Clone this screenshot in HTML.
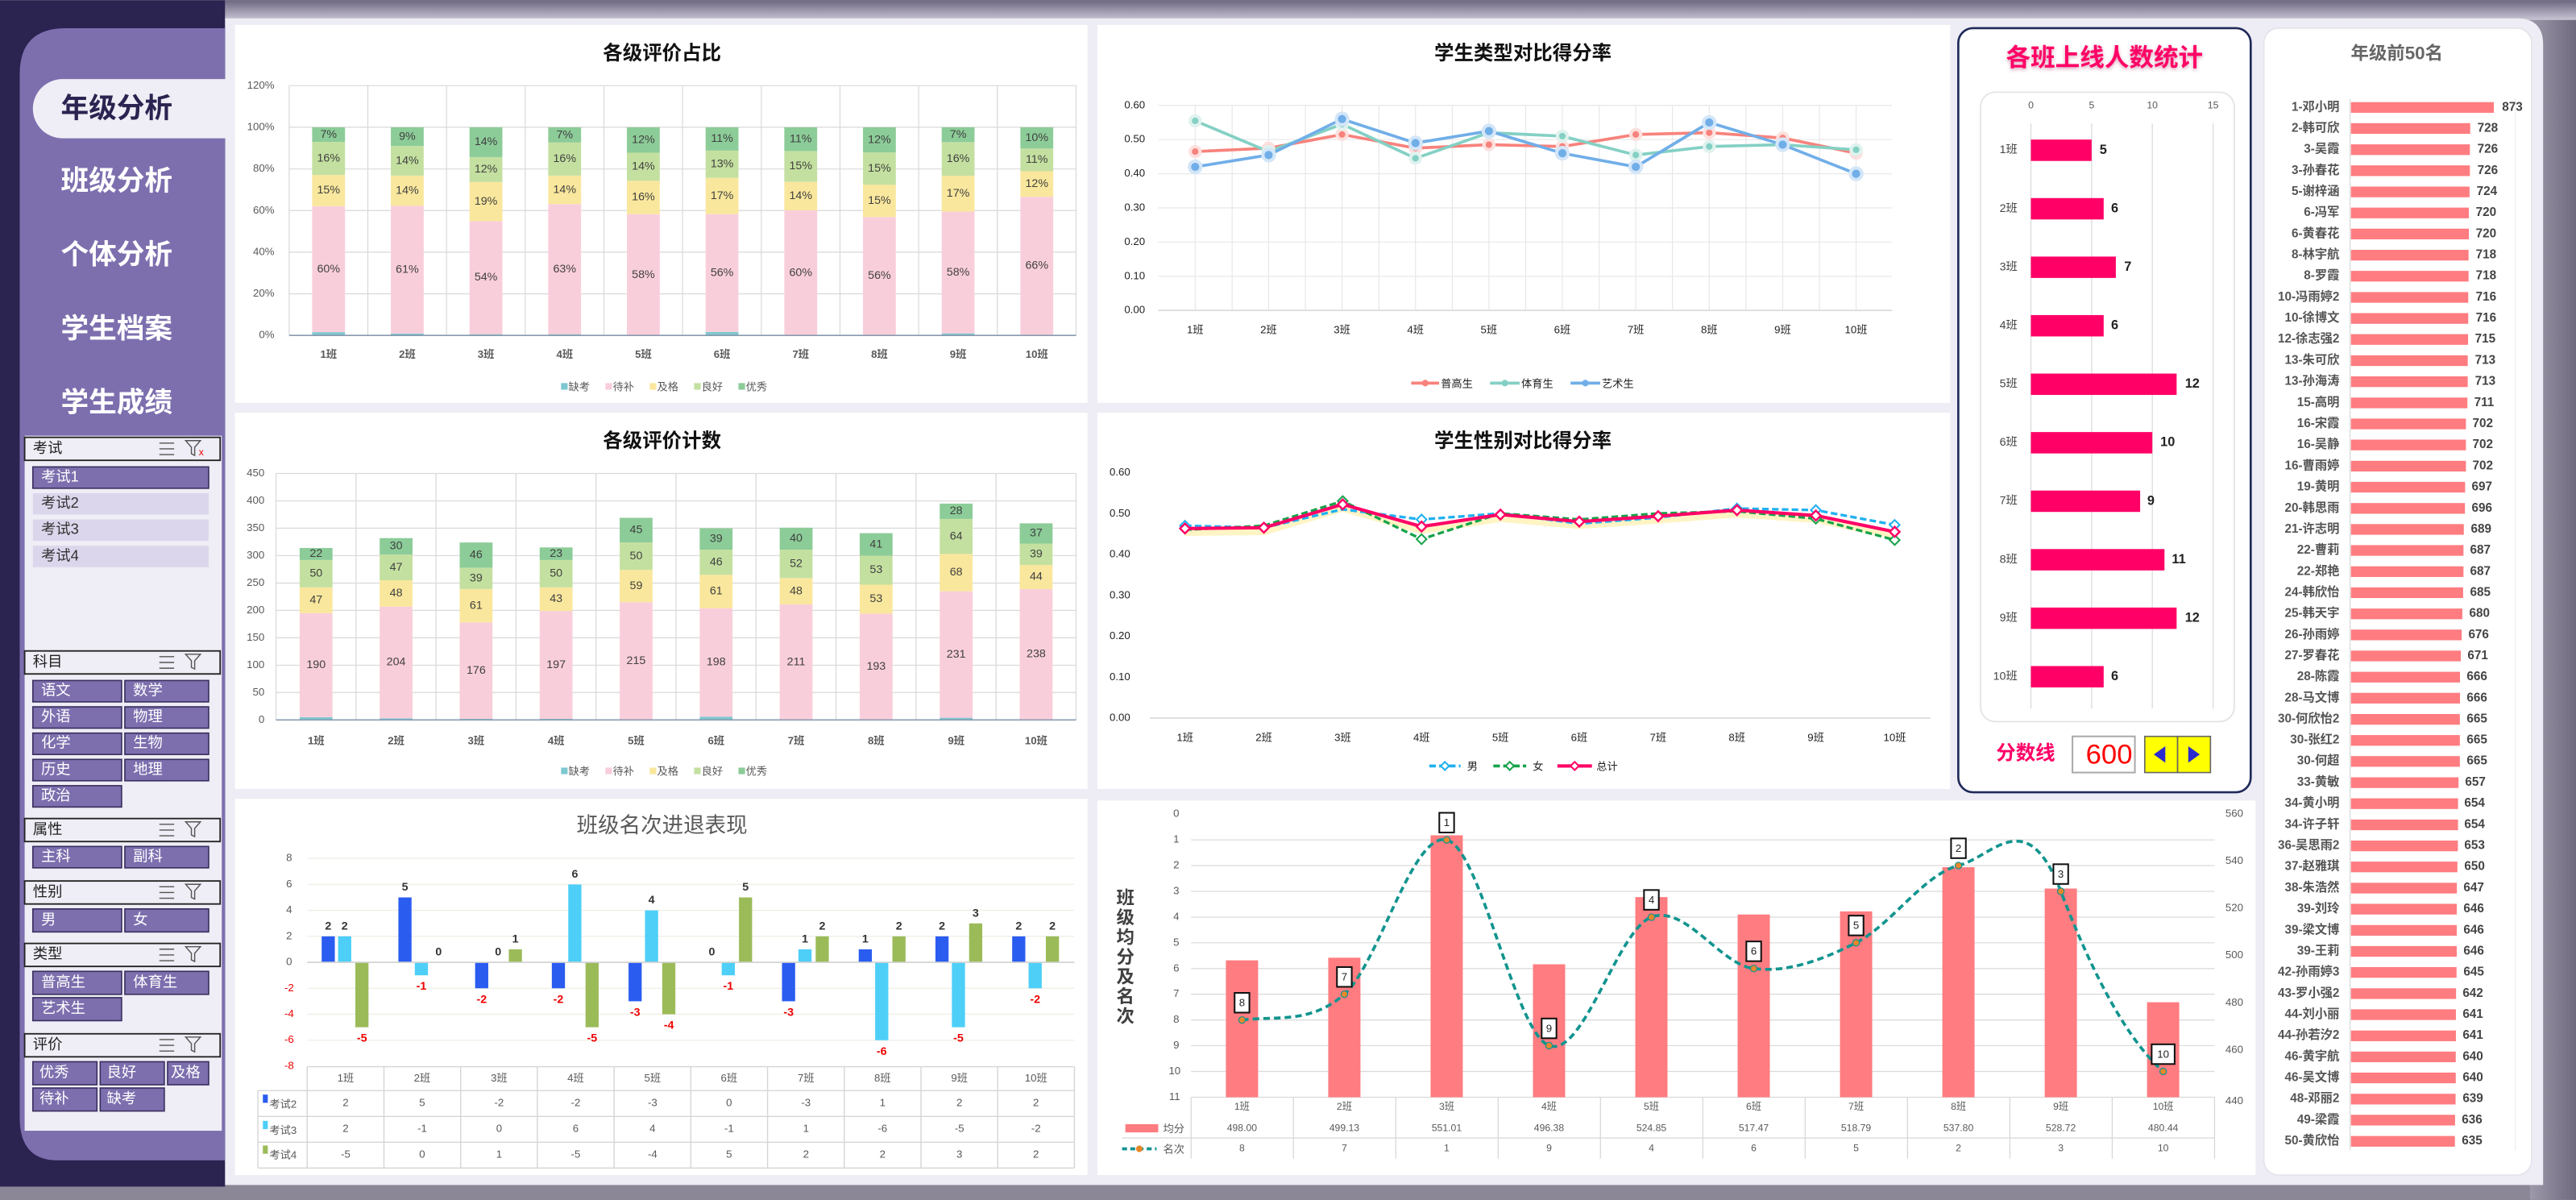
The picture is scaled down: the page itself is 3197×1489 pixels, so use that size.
<!DOCTYPE html>
<html><head><meta charset="utf-8">
<style>
html,body{margin:0;padding:0;background:#8c8797;}
svg{display:block;font-family:"Liberation Sans","Noto Sans CJK SC",sans-serif;}
.t{font-size:6.5px;fill:#595959}
.tm{font-size:6.5px;fill:#595959;text-anchor:middle;dominant-baseline:middle}
.tr{font-size:6.5px;fill:#595959;text-anchor:end;dominant-baseline:middle}
.ttl{font-size:12px;font-weight:bold;fill:#111;text-anchor:middle;dominant-baseline:middle}
.g{stroke:#d9d9d9;stroke-width:0.6}
.lb{font-size:7px;fill:#404040;text-anchor:middle;dominant-baseline:middle}
.bw{fill:#7d6fae;stroke:#3a2f5f;stroke-width:0.8}
.bt{font-size:9px;fill:#fff;dominant-baseline:middle}
.hd{font-size:9px;fill:#222;dominant-baseline:middle}
.nm{font-size:7.5px;font-weight:bold;fill:#555;text-anchor:end;dominant-baseline:middle}
.vl{font-size:7.5px;font-weight:bold;fill:#444;dominant-baseline:middle}
</style></head><body>
<svg width="3197" height="1489" viewBox="0 0 1568 730" xmlns="http://www.w3.org/2000/svg">
<defs>
<linearGradient id="top" x1="0" y1="0" x2="0" y2="1"><stop offset="0" stop-color="#6d6680"/><stop offset="1" stop-color="#c9c5d4"/></linearGradient>
<linearGradient id="rs" x1="0" y1="0" x2="1" y2="0"><stop offset="0" stop-color="#9d98aa"/><stop offset="1" stop-color="#6f6a7e"/></linearGradient>
<filter id="sh" x="-20%" y="-20%" width="140%" height="140%"><feGaussianBlur stdDeviation="1.2"/></filter>
</defs>
<!-- background -->
<rect x="0" y="0" width="1568" height="730" fill="#8c8797"/>
<rect x="1540" y="0" width="28" height="730" fill="url(#rs)"/>
<rect x="0" y="0" width="137" height="722" fill="#2b2350"/>
<rect x="137" y="0" width="1431" height="12" fill="url(#top)"/>
<path d="M137,11 H1532 Q1548,11 1548,27 V721 H137 Z" fill="#eeecf4"/>
<!-- sidebar -->
<path d="M40,17 H137 V706 H35 Q12,706 12,680 V45 Q12,17 40,17 Z" fill="#7d6fae"/>
<rect x="20" y="48" width="135" height="36" rx="18" fill="#efedf5"/>
<text x="37" y="67" font-size="17" font-weight="bold" fill="#2b2350" dominant-baseline="middle">年级分析</text>
<text x="37" y="111" font-size="17" font-weight="bold" fill="#fff" dominant-baseline="middle">班级分析</text>
<text x="37" y="156" font-size="17" font-weight="bold" fill="#fff" dominant-baseline="middle">个体分析</text>
<text x="37" y="201" font-size="17" font-weight="bold" fill="#fff" dominant-baseline="middle">学生档案</text>
<text x="37" y="246" font-size="17" font-weight="bold" fill="#fff" dominant-baseline="middle">学生成绩</text>
<rect x="15" y="265" width="120" height="423" fill="#efedf5"/>
<!-- filter headers -->
<g stroke="#222" stroke-width="0.9" fill="#efedf5">
<rect x="15" y="266" width="119" height="14"/>
<rect x="15" y="396" width="119" height="14"/>
<rect x="15" y="498" width="119" height="14"/>
<rect x="15" y="536" width="119" height="14"/>
<rect x="15" y="574" width="119" height="14"/>
<rect x="15" y="629" width="119" height="14"/>
</g>
<text class="hd" x="20" y="273">考试</text>
<text class="hd" x="20" y="403">科目</text>
<text class="hd" x="20" y="505">属性</text>
<text class="hd" x="20" y="543">性别</text>
<text class="hd" x="20" y="581">类型</text>
<text class="hd" x="20" y="636">评价</text>
<g stroke="#555" stroke-width="0.7" fill="none">
<path d="M97,269.5h9M97,273h9M97,276.5h9 M113,268h9l-3.5,4v5l-2,-1v-4z"/>
<path d="M97,399.5h9M97,403h9M97,406.5h9 M113,398h9l-3.5,4v5l-2,-1v-4z"/>
<path d="M97,501.5h9M97,505h9M97,508.5h9 M113,500h9l-3.5,4v5l-2,-1v-4z"/>
<path d="M97,539.5h9M97,543h9M97,546.5h9 M113,538h9l-3.5,4v5l-2,-1v-4z"/>
<path d="M97,577.5h9M97,581h9M97,584.5h9 M113,576h9l-3.5,4v5l-2,-1v-4z"/>
<path d="M97,632.5h9M97,636h9M97,639.5h9 M113,631h9l-3.5,4v5l-2,-1v-4z"/>
</g>
<text x="121" y="277" font-size="6" fill="#e00">x</text>
<!-- exam list -->
<rect class="bw" x="20" y="284" width="107" height="13"/><text class="bt" x="25" y="290.5">考试1</text>
<rect x="20" y="300" width="107" height="13" fill="#dcd6ec"/><text class="bt" x="25" y="306.5" fill="#333" style="fill:#333">考试2</text>
<rect x="20" y="316" width="107" height="13" fill="#dcd6ec"/><text class="bt" x="25" y="322.5" style="fill:#333">考试3</text>
<rect x="20" y="332" width="107" height="13" fill="#dcd6ec"/><text class="bt" x="25" y="338.5" style="fill:#333">考试4</text>
<!-- subject buttons -->
<rect class="bw" x="20" y="414" width="54" height="13"/><text class="bt" x="25" y="420.5">语文</text>
<rect class="bw" x="76" y="414" width="51" height="13"/><text class="bt" x="81" y="420.5">数学</text>
<rect class="bw" x="20" y="430" width="54" height="13"/><text class="bt" x="25" y="436.5">外语</text>
<rect class="bw" x="76" y="430" width="51" height="13"/><text class="bt" x="81" y="436.5">物理</text>
<rect class="bw" x="20" y="446" width="54" height="13"/><text class="bt" x="25" y="452.5">化学</text>
<rect class="bw" x="76" y="446" width="51" height="13"/><text class="bt" x="81" y="452.5">生物</text>
<rect class="bw" x="20" y="462" width="54" height="13"/><text class="bt" x="25" y="468.5">历史</text>
<rect class="bw" x="76" y="462" width="51" height="13"/><text class="bt" x="81" y="468.5">地理</text>
<rect class="bw" x="20" y="478" width="54" height="13"/><text class="bt" x="25" y="484.5">政治</text>
<rect class="bw" x="20" y="515" width="54" height="13"/><text class="bt" x="25" y="521.5">主科</text>
<rect class="bw" x="76" y="515" width="51" height="13"/><text class="bt" x="81" y="521.5">副科</text>
<rect class="bw" x="20" y="553" width="54" height="14"/><text class="bt" x="25" y="560">男</text>
<rect class="bw" x="76" y="553" width="51" height="14"/><text class="bt" x="81" y="560">女</text>
<rect class="bw" x="20" y="591" width="54" height="14"/><text class="bt" x="25" y="598">普高生</text>
<rect class="bw" x="76" y="591" width="51" height="14"/><text class="bt" x="81" y="598">体育生</text>
<rect class="bw" x="20" y="607" width="54" height="14"/><text class="bt" x="25" y="614">艺术生</text>
<rect class="bw" x="20" y="646" width="39" height="14"/><text class="bt" x="24" y="653">优秀</text>
<rect class="bw" x="61" y="646" width="39" height="14"/><text class="bt" x="65" y="653">良好</text>
<rect class="bw" x="102" y="646" width="25" height="14"/><text class="bt" x="104" y="653">及格</text>
<rect class="bw" x="20" y="662" width="39" height="14"/><text class="bt" x="24" y="669">待补</text>
<rect class="bw" x="61" y="662" width="39" height="14"/><text class="bt" x="65" y="669">缺考</text>

<!-- panels -->
<rect x="143" y="15" width="519" height="230" fill="#fff"/>
<rect x="143" y="251" width="519" height="229" fill="#fff"/>
<rect x="143" y="486" width="519" height="229" fill="#fff"/>
<rect x="668" y="15" width="519" height="230" fill="#fff"/>
<rect x="668" y="251" width="519" height="229" fill="#fff"/>
<rect x="668" y="487" width="705" height="228" fill="#fff"/>
<rect x="1192" y="17" width="178" height="465" rx="9" fill="#fff" stroke="#1f2a5a" stroke-width="1.3"/>
<rect x="1378" y="17" width="163" height="698" rx="9" fill="#fff" stroke="#e4e2ea" stroke-width="0.8"/>

<!-- ===== Chart A ===== -->
<text class="ttl" x="403" y="33">各级评价占比</text>
<g class="g">
<line x1="176" y1="52" x2="655" y2="52"/><line x1="176" y1="77.3" x2="655" y2="77.3"/><line x1="176" y1="102.7" x2="655" y2="102.7"/><line x1="176" y1="128" x2="655" y2="128"/><line x1="176" y1="153.3" x2="655" y2="153.3"/><line x1="176" y1="178.7" x2="655" y2="178.7"/>
<line x1="176" y1="52" x2="176" y2="204"/><line x1="223.9" y1="52" x2="223.9" y2="204"/><line x1="271.8" y1="52" x2="271.8" y2="204"/><line x1="319.7" y1="52" x2="319.7" y2="204"/><line x1="367.6" y1="52" x2="367.6" y2="204"/><line x1="415.5" y1="52" x2="415.5" y2="204"/><line x1="463.4" y1="52" x2="463.4" y2="204"/><line x1="511.3" y1="52" x2="511.3" y2="204"/><line x1="559.2" y1="52" x2="559.2" y2="204"/><line x1="607.1" y1="52" x2="607.1" y2="204"/><line x1="655" y1="52" x2="655" y2="204"/>
</g>
<g transform="translate(0,204) scale(1,-1.2667)">
<g fill="#7ec8d0"><rect x="190" y="0" width="20" height="1.6"/><rect x="237.9" y="0" width="20" height="0.9"/><rect x="285.8" y="0" width="20" height="0.6"/><rect x="333.7" y="0" width="20" height="0.6"/><rect x="429.5" y="0" width="20" height="1.7"/><rect x="525.3" y="0" width="20" height="0.3"/><rect x="573.2" y="0" width="20" height="1"/><rect x="621.1" y="0" width="20" height="0.3"/></g>
<g fill="#f9cedb"><rect x="190" y="1.6" width="20" height="60.5"/><rect x="237.9" y="0.9" width="20" height="61.4"/><rect x="285.8" y="0.6" width="20" height="54.3"/><rect x="333.7" y="0.6" width="20" height="62.5"/><rect x="381.6" y="0" width="20" height="58.3"/><rect x="429.5" y="1.7" width="20" height="56.6"/><rect x="477.4" y="0" width="20" height="60.1"/><rect x="525.3" y="0.3" width="20" height="56.6"/><rect x="573.2" y="1" width="20" height="58.5"/><rect x="621.1" y="0.3" width="20" height="66.3"/></g>
<g fill="#f9e79d"><rect x="190" y="62.1" width="20" height="15"/><rect x="237.9" y="62.3" width="20" height="14.5"/><rect x="285.8" y="54.9" width="20" height="18.8"/><rect x="333.7" y="63.1" width="20" height="13.7"/><rect x="381.6" y="58.3" width="20" height="16"/><rect x="429.5" y="58.3" width="20" height="17.4"/><rect x="477.4" y="60.1" width="20" height="13.7"/><rect x="525.3" y="56.9" width="20" height="15.5"/><rect x="573.2" y="59.5" width="20" height="17.2"/><rect x="621.1" y="66.6" width="20" height="12.3"/></g>
<g fill="#c4e0a0"><rect x="190" y="77.1" width="20" height="15.9"/><rect x="237.9" y="76.8" width="20" height="14.2"/><rect x="285.8" y="73.7" width="20" height="12"/><rect x="333.7" y="76.8" width="20" height="15.9"/><rect x="381.6" y="74.3" width="20" height="13.5"/><rect x="429.5" y="75.7" width="20" height="13.1"/><rect x="477.4" y="73.8" width="20" height="14.8"/><rect x="525.3" y="72.4" width="20" height="15.5"/><rect x="573.2" y="76.7" width="20" height="16.2"/><rect x="621.1" y="78.9" width="20" height="10.9"/></g>
<g fill="#8ccc98"><rect x="190" y="93" width="20" height="7"/><rect x="237.9" y="91" width="20" height="9"/><rect x="285.8" y="85.7" width="20" height="14.3"/><rect x="333.7" y="92.7" width="20" height="7.3"/><rect x="381.6" y="87.8" width="20" height="12.2"/><rect x="429.5" y="88.8" width="20" height="11.2"/><rect x="477.4" y="88.6" width="20" height="11.4"/><rect x="525.3" y="87.9" width="20" height="12.1"/><rect x="573.2" y="92.9" width="20" height="7.1"/><rect x="621.1" y="89.8" width="20" height="10.2"/></g>
</g>
<line x1="176" y1="204" x2="655" y2="204" stroke="#8a9bb0" stroke-width="0.8"/>
<g class="tr"><text x="167" y="52">120%</text><text x="167" y="77.3">100%</text><text x="167" y="102.7">80%</text><text x="167" y="128">60%</text><text x="167" y="153.3">40%</text><text x="167" y="178.7">20%</text><text x="167" y="204">0%</text></g>
<g class="lb">
<text x="200" y="163.7">60%</text><text x="200" y="115.8">15%</text><text x="200" y="96.3">16%</text><text x="200" y="81.8">7%</text>
<text x="247.9" y="164">61%</text><text x="247.9" y="115.9">14%</text><text x="247.9" y="97.7">14%</text><text x="247.9" y="83">9%</text>
<text x="295.8" y="168.8">54%</text><text x="295.8" y="122.6">19%</text><text x="295.8" y="103">12%</text><text x="295.8" y="86.4">14%</text>
<text x="343.7" y="163.7">63%</text><text x="343.7" y="115.4">14%</text><text x="343.7" y="96.6">16%</text><text x="343.7" y="82">7%</text>
<text x="391.6" y="167.1">58%</text><text x="391.6" y="120">16%</text><text x="391.6" y="101.3">14%</text><text x="391.6" y="85.1">12%</text>
<text x="439.5" y="166">56%</text><text x="439.5" y="119.1">17%</text><text x="439.5" y="99.8">13%</text><text x="439.5" y="84.4">11%</text>
<text x="487.4" y="165.9">60%</text><text x="487.4" y="119.2">14%</text><text x="487.4" y="101.1">15%</text><text x="487.4" y="84.6">11%</text>
<text x="535.3" y="167.8">56%</text><text x="535.3" y="122.1">15%</text><text x="535.3" y="102.5">15%</text><text x="535.3" y="85">12%</text>
<text x="583.2" y="165.7">58%</text><text x="583.2" y="117.7">17%</text><text x="583.2" y="96.6">16%</text><text x="583.2" y="81.8">7%</text>
<text x="631.1" y="161.6">66%</text><text x="631.1" y="111.8">12%</text><text x="631.1" y="97.2">11%</text><text x="631.1" y="83.8">10%</text>
</g>
<g class="tm" font-weight="bold"><text x="200" y="216">1班</text><text x="247.9" y="216">2班</text><text x="295.8" y="216">3班</text><text x="343.7" y="216">4班</text><text x="391.6" y="216">5班</text><text x="439.5" y="216">6班</text><text x="487.4" y="216">7班</text><text x="535.3" y="216">8班</text><text x="583.2" y="216">9班</text><text x="631.1" y="216">10班</text></g>
<g>
<rect x="341.5" y="233" width="4" height="4" fill="#7ec8d0"/><text class="t" x="346" y="237.5">缺考</text>
<rect x="368.5" y="233" width="4" height="4" fill="#f9cedb"/><text class="t" x="373" y="237.5">待补</text>
<rect x="395.5" y="233" width="4" height="4" fill="#f9e79d"/><text class="t" x="400" y="237.5">及格</text>
<rect x="422.5" y="233" width="4" height="4" fill="#c4e0a0"/><text class="t" x="427" y="237.5">良好</text>
<rect x="449.5" y="233" width="4" height="4" fill="#8ccc98"/><text class="t" x="454" y="237.5">优秀</text>
</g>

<!-- ===== Chart B ===== -->
<text class="ttl" x="403" y="269">各级评价计数</text>
<g class="g">
<line x1="168" y1="288" x2="655" y2="288"/><line x1="168" y1="304.7" x2="655" y2="304.7"/><line x1="168" y1="321.3" x2="655" y2="321.3"/><line x1="168" y1="338" x2="655" y2="338"/><line x1="168" y1="354.7" x2="655" y2="354.7"/><line x1="168" y1="371.3" x2="655" y2="371.3"/><line x1="168" y1="388" x2="655" y2="388"/><line x1="168" y1="404.7" x2="655" y2="404.7"/><line x1="168" y1="421.3" x2="655" y2="421.3"/>
<line x1="168" y1="288" x2="168" y2="438"/><line x1="216.7" y1="288" x2="216.7" y2="438"/><line x1="265.4" y1="288" x2="265.4" y2="438"/><line x1="314.1" y1="288" x2="314.1" y2="438"/><line x1="362.8" y1="288" x2="362.8" y2="438"/><line x1="411.5" y1="288" x2="411.5" y2="438"/><line x1="460.2" y1="288" x2="460.2" y2="438"/><line x1="508.9" y1="288" x2="508.9" y2="438"/><line x1="557.6" y1="288" x2="557.6" y2="438"/><line x1="606.3" y1="288" x2="606.3" y2="438"/><line x1="655" y1="288" x2="655" y2="438"/>
</g>
<g transform="translate(0,438) scale(1,-0.33333)">
<g fill="#7ec8d0"><rect x="182.4" y="0" width="20" height="5"/><rect x="231.1" y="0" width="20" height="3"/><rect x="279.8" y="0" width="20" height="2"/><rect x="328.5" y="0" width="20" height="2"/><rect x="425.9" y="0" width="20" height="6"/><rect x="523.3" y="0" width="20" height="1"/><rect x="572" y="0" width="20" height="4"/><rect x="620.7" y="0" width="20" height="1"/></g>
<g fill="#f9cedb"><rect x="182.4" y="5" width="20" height="190"/><rect x="231.1" y="3" width="20" height="204"/><rect x="279.8" y="2" width="20" height="176"/><rect x="328.5" y="2" width="20" height="197"/><rect x="377.2" y="0" width="20" height="215"/><rect x="425.9" y="6" width="20" height="198"/><rect x="474.6" y="0" width="20" height="211"/><rect x="523.3" y="1" width="20" height="193"/><rect x="572" y="4" width="20" height="231"/><rect x="620.7" y="1" width="20" height="238"/></g>
<g fill="#f9e79d"><rect x="182.4" y="195" width="20" height="47"/><rect x="231.1" y="207" width="20" height="48"/><rect x="279.8" y="178" width="20" height="61"/><rect x="328.5" y="199" width="20" height="43"/><rect x="377.2" y="215" width="20" height="59"/><rect x="425.9" y="204" width="20" height="61"/><rect x="474.6" y="211" width="20" height="48"/><rect x="523.3" y="194" width="20" height="53"/><rect x="572" y="235" width="20" height="68"/><rect x="620.7" y="239" width="20" height="44"/></g>
<g fill="#c4e0a0"><rect x="182.4" y="242" width="20" height="50"/><rect x="231.1" y="255" width="20" height="47"/><rect x="279.8" y="239" width="20" height="39"/><rect x="328.5" y="242" width="20" height="50"/><rect x="377.2" y="274" width="20" height="50"/><rect x="425.9" y="265" width="20" height="46"/><rect x="474.6" y="259" width="20" height="52"/><rect x="523.3" y="247" width="20" height="53"/><rect x="572" y="303" width="20" height="64"/><rect x="620.7" y="283" width="20" height="39"/></g>
<g fill="#8ccc98"><rect x="182.4" y="292" width="20" height="22"/><rect x="231.1" y="302" width="20" height="30"/><rect x="279.8" y="278" width="20" height="46"/><rect x="328.5" y="292" width="20" height="23"/><rect x="377.2" y="324" width="20" height="45"/><rect x="425.9" y="311" width="20" height="39"/><rect x="474.6" y="311" width="20" height="40"/><rect x="523.3" y="300" width="20" height="41"/><rect x="572" y="367" width="20" height="28"/><rect x="620.7" y="322" width="20" height="37"/></g>
</g>
<line x1="168" y1="438" x2="655" y2="438" stroke="#8a9bb0" stroke-width="0.8"/>
<g class="tr"><text x="161" y="288">450</text><text x="161" y="304.7">400</text><text x="161" y="321.3">350</text><text x="161" y="338">300</text><text x="161" y="354.7">250</text><text x="161" y="371.3">200</text><text x="161" y="388">150</text><text x="161" y="404.7">100</text><text x="161" y="421.3">50</text><text x="161" y="438">0</text></g>
<g class="lb">
<text x="192.4" y="404.7">190</text><text x="192.4" y="365.2">47</text><text x="192.4" y="349">50</text><text x="192.4" y="337">22</text>
<text x="241.1" y="403">204</text><text x="241.1" y="361">48</text><text x="241.1" y="345.2">47</text><text x="241.1" y="332.3">30</text>
<text x="289.8" y="408">176</text><text x="289.8" y="368.5">61</text><text x="289.8" y="351.8">39</text><text x="289.8" y="337.7">46</text>
<text x="338.5" y="404.5">197</text><text x="338.5" y="364.5">43</text><text x="338.5" y="349">50</text><text x="338.5" y="336.8">23</text>
<text x="387.2" y="402.2">215</text><text x="387.2" y="356.5">59</text><text x="387.2" y="338.3">50</text><text x="387.2" y="322.5">45</text>
<text x="435.9" y="403">198</text><text x="435.9" y="359.8">61</text><text x="435.9" y="342">46</text><text x="435.9" y="327.8">39</text>
<text x="484.6" y="402.8">211</text><text x="484.6" y="359.7">48</text><text x="484.6" y="343">52</text><text x="484.6" y="327.7">40</text>
<text x="533.3" y="405.5">193</text><text x="533.3" y="364.5">53</text><text x="533.3" y="346.8">53</text><text x="533.3" y="331.2">41</text>
<text x="582" y="398.2">231</text><text x="582" y="348.3">68</text><text x="582" y="326.3">64</text><text x="582" y="311">28</text>
<text x="630.7" y="398">238</text><text x="630.7" y="351">44</text><text x="630.7" y="337.2">39</text><text x="630.7" y="324.5">37</text>
</g>
<g class="tm" font-weight="bold"><text x="192.4" y="451">1班</text><text x="241.1" y="451">2班</text><text x="289.8" y="451">3班</text><text x="338.5" y="451">4班</text><text x="387.2" y="451">5班</text><text x="435.9" y="451">6班</text><text x="484.6" y="451">7班</text><text x="533.3" y="451">8班</text><text x="582" y="451">9班</text><text x="630.7" y="451">10班</text></g>
<g>
<rect x="341.5" y="467" width="4" height="4" fill="#7ec8d0"/><text class="t" x="346" y="471.5">缺考</text>
<rect x="368.5" y="467" width="4" height="4" fill="#f9cedb"/><text class="t" x="373" y="471.5">待补</text>
<rect x="395.5" y="467" width="4" height="4" fill="#f9e79d"/><text class="t" x="400" y="471.5">及格</text>
<rect x="422.5" y="467" width="4" height="4" fill="#c4e0a0"/><text class="t" x="427" y="471.5">良好</text>
<rect x="449.5" y="467" width="4" height="4" fill="#8ccc98"/><text class="t" x="454" y="471.5">优秀</text>
</g>

<!-- ===== Chart C ===== -->
<text x="403" y="503" font-size="13" fill="#595959" text-anchor="middle" dominant-baseline="middle">班级名次进退表现</text>
<g stroke="#f0efe8" stroke-width="0.7">
<line x1="187" y1="522.3" x2="654" y2="522.3"/><line x1="187" y1="538.1" x2="654" y2="538.1"/><line x1="187" y1="553.9" x2="654" y2="553.9"/><line x1="187" y1="569.7" x2="654" y2="569.7"/><line x1="187" y1="601.3" x2="654" y2="601.3"/><line x1="187" y1="617.1" x2="654" y2="617.1"/><line x1="187" y1="632.9" x2="654" y2="632.9"/>
</g>
<g class="tm"><text x="176" y="522.3">8</text><text x="176" y="538.1">6</text><text x="176" y="553.9">4</text><text x="176" y="569.7">2</text><text x="176" y="585.5">0</text></g>
<g class="tm" style="fill:#e00"><text x="176" y="601.3">-2</text><text x="176" y="617.1">-4</text><text x="176" y="632.9">-6</text><text x="176" y="648.7">-8</text></g>
<g transform="translate(0,585.5) scale(1,-7.9)">
<g fill="#2a5cf0"><rect x="195.8" y="0" width="8" height="2"/><rect x="242.5" y="0" width="8" height="5"/><rect x="289.2" y="-2" width="8" height="2"/><rect x="335.9" y="-2" width="8" height="2"/><rect x="382.6" y="-3" width="8" height="3"/><rect x="476" y="-3" width="8" height="3"/><rect x="522.7" y="0" width="8" height="1"/><rect x="569.4" y="0" width="8" height="2"/><rect x="616.1" y="0" width="8" height="2"/></g>
<g fill="#4dcff8"><rect x="205.8" y="0" width="8" height="2"/><rect x="252.5" y="-1" width="8" height="1"/><rect x="345.9" y="0" width="8" height="6"/><rect x="392.6" y="0" width="8" height="4"/><rect x="439.3" y="-1" width="8" height="1"/><rect x="486" y="0" width="8" height="1"/><rect x="532.7" y="-6" width="8" height="6"/><rect x="579.4" y="-5" width="8" height="5"/><rect x="626.1" y="-2" width="8" height="2"/></g>
<g fill="#9bbb59"><rect x="216.3" y="-5" width="8" height="5"/><rect x="309.7" y="0" width="8" height="1"/><rect x="356.4" y="-5" width="8" height="5"/><rect x="403.1" y="-4" width="8" height="4"/><rect x="449.8" y="0" width="8" height="5"/><rect x="496.5" y="0" width="8" height="2"/><rect x="543.2" y="0" width="8" height="2"/><rect x="589.9" y="0" width="8" height="3"/><rect x="636.6" y="0" width="8" height="2"/></g>
</g>
<line x1="187" y1="585.5" x2="654" y2="585.5" stroke="#d0d0d0" stroke-width="0.8"/>
<g font-size="7" font-weight="bold" fill="#333" text-anchor="middle" dominant-baseline="middle">
<text x="199.8" y="563.7">2</text><text x="209.8" y="563.7">2</text>
<text x="246.5" y="540">5</text><text x="267" y="579.5">0</text>
<text x="303.2" y="579.5">0</text><text x="313.7" y="571.6">1</text>
<text x="349.9" y="532.1">6</text>
<text x="396.6" y="547.9">4</text>
<text x="433.3" y="579.5">0</text><text x="453.8" y="540">5</text>
<text x="490" y="571.6">1</text><text x="500.5" y="563.7">2</text>
<text x="526.7" y="571.6">1</text><text x="547.2" y="563.7">2</text>
<text x="573.4" y="563.7">2</text><text x="593.9" y="555.8">3</text>
<text x="620.1" y="563.7">2</text><text x="640.6" y="563.7">2</text>
</g>
<g font-size="7" font-weight="bold" fill="#e00" text-anchor="middle" dominant-baseline="middle">
<text x="220.3" y="632">-5</text><text x="256.5" y="600.4">-1</text><text x="293.2" y="608.3">-2</text><text x="339.9" y="608.3">-2</text><text x="360.4" y="632">-5</text>
<text x="386.6" y="616.2">-3</text><text x="407.1" y="624.1">-4</text><text x="443.3" y="600.4">-1</text><text x="480" y="616.2">-3</text>
<text x="536.7" y="639.9">-6</text><text x="583.4" y="632">-5</text><text x="630.1" y="608.3">-2</text>
</g>
<!-- table -->
<g stroke="#d6d6d6" stroke-width="0.7">
<line x1="187" y1="649" x2="654" y2="649"/><line x1="157" y1="663.6" x2="654" y2="663.6"/><line x1="157" y1="679.3" x2="654" y2="679.3"/><line x1="157" y1="695" x2="654" y2="695"/><line x1="157" y1="710.7" x2="654" y2="710.7"/>
<line x1="157" y1="663.6" x2="157" y2="710.7"/>
<line x1="187" y1="649" x2="187" y2="710.7"/><line x1="233.7" y1="649" x2="233.7" y2="710.7"/><line x1="280.4" y1="649" x2="280.4" y2="710.7"/><line x1="327.1" y1="649" x2="327.1" y2="710.7"/><line x1="373.8" y1="649" x2="373.8" y2="710.7"/><line x1="420.5" y1="649" x2="420.5" y2="710.7"/><line x1="467.2" y1="649" x2="467.2" y2="710.7"/><line x1="513.9" y1="649" x2="513.9" y2="710.7"/><line x1="560.6" y1="649" x2="560.6" y2="710.7"/><line x1="607.3" y1="649" x2="607.3" y2="710.7"/><line x1="654" y1="649" x2="654" y2="710.7"/>
</g>
<g class="tm">
<text x="210.4" y="656.3">1班</text><text x="257" y="656.3">2班</text><text x="303.8" y="656.3">3班</text><text x="350.4" y="656.3">4班</text><text x="397.2" y="656.3">5班</text><text x="443.8" y="656.3">6班</text><text x="490.6" y="656.3">7班</text><text x="537.2" y="656.3">8班</text><text x="584" y="656.3">9班</text><text x="630.6" y="656.3">10班</text>
<text x="210.4" y="671.4">2</text><text x="257" y="671.4">5</text><text x="303.8" y="671.4">-2</text><text x="350.4" y="671.4">-2</text><text x="397.2" y="671.4">-3</text><text x="443.8" y="671.4">0</text><text x="490.6" y="671.4">-3</text><text x="537.2" y="671.4">1</text><text x="584" y="671.4">2</text><text x="630.6" y="671.4">2</text>
<text x="210.4" y="687.1">2</text><text x="257" y="687.1">-1</text><text x="303.8" y="687.1">0</text><text x="350.4" y="687.1">6</text><text x="397.2" y="687.1">4</text><text x="443.8" y="687.1">-1</text><text x="490.6" y="687.1">1</text><text x="537.2" y="687.1">-6</text><text x="584" y="687.1">-5</text><text x="630.6" y="687.1">-2</text>
<text x="210.4" y="702.8">-5</text><text x="257" y="702.8">0</text><text x="303.8" y="702.8">1</text><text x="350.4" y="702.8">-5</text><text x="397.2" y="702.8">-4</text><text x="443.8" y="702.8">5</text><text x="490.6" y="702.8">2</text><text x="537.2" y="702.8">2</text><text x="584" y="702.8">3</text><text x="630.6" y="702.8">2</text>
</g>
<rect x="160" y="666" width="3" height="5" fill="#2a5cf0"/><text class="t" x="164" y="674">考试2</text>
<rect x="160" y="682" width="3" height="5" fill="#4dcff8"/><text class="t" x="164" y="690">考试3</text>
<rect x="160" y="697" width="3" height="5" fill="#9bbb59"/><text class="t" x="164" y="705">考试4</text>

<!-- ===== Chart D ===== -->
<text class="ttl" x="927" y="33">学生类型对比得分率</text>
<g stroke="#e8e8e8" stroke-width="0.6">
<line x1="705" y1="64" x2="1151.6" y2="64"/><line x1="705" y1="84.8" x2="1151.6" y2="84.8"/><line x1="705" y1="105.6" x2="1151.6" y2="105.6"/><line x1="705" y1="126.4" x2="1151.6" y2="126.4"/><line x1="705" y1="147.2" x2="1151.6" y2="147.2"/><line x1="705" y1="168" x2="1151.6" y2="168"/>
<line x1="727.5" y1="64" x2="727.5" y2="188.8"/><line x1="750" y1="64" x2="750" y2="188.8"/><line x1="772.2" y1="64" x2="772.2" y2="188.8"/><line x1="794.6" y1="64" x2="794.6" y2="188.8"/><line x1="816.9" y1="64" x2="816.9" y2="188.8"/><line x1="839.3" y1="64" x2="839.3" y2="188.8"/><line x1="861.6" y1="64" x2="861.6" y2="188.8"/><line x1="884" y1="64" x2="884" y2="188.8"/><line x1="906.3" y1="64" x2="906.3" y2="188.8"/><line x1="928.7" y1="64" x2="928.7" y2="188.8"/><line x1="951" y1="64" x2="951" y2="188.8"/><line x1="973.4" y1="64" x2="973.4" y2="188.8"/><line x1="995.7" y1="64" x2="995.7" y2="188.8"/><line x1="1018" y1="64" x2="1018" y2="188.8"/><line x1="1040.4" y1="64" x2="1040.4" y2="188.8"/><line x1="1062.8" y1="64" x2="1062.8" y2="188.8"/><line x1="1085.1" y1="64" x2="1085.1" y2="188.8"/><line x1="1107.5" y1="64" x2="1107.5" y2="188.8"/><line x1="1129.8" y1="64" x2="1129.8" y2="188.8"/>
</g>
<line x1="705" y1="188.8" x2="1151.6" y2="188.8" stroke="#d9d9d9" stroke-width="0.8"/>
<g class="tr" style="fill:#222"><text x="697" y="64">0.60</text><text x="697" y="84.8">0.50</text><text x="697" y="105.6">0.40</text><text x="697" y="126.4">0.30</text><text x="697" y="147.2">0.20</text><text x="697" y="168">0.10</text><text x="697" y="188.8">0.00</text></g>
<g fill="none" stroke-width="1.8" stroke-linejoin="round">
<polyline stroke="#f8827c" points="727.5,92.1 772.2,90 816.9,81.7 861.6,90 906.3,87.9 951,89 995.7,81.7 1040.4,80.6 1085.1,83.8 1129.8,93.1"/>
<polyline stroke="#84d0c4" points="727.5,73.4 772.2,92.1 816.9,75.4 861.6,96.2 906.3,80.6 951,82.7 995.7,94.2 1040.4,89 1085.1,87.9 1129.8,91"/>
<polyline stroke="#70aee8" points="727.5,101.4 772.2,94.2 816.9,72.3 861.6,86.9 906.3,79.6 951,93.1 995.7,101.4 1040.4,74.4 1085.1,87.9 1129.8,105.6"/>
</g>
<g fill="#f8827c" stroke="#fde0de" stroke-width="2"><circle cx="727.5" cy="92.1" r="3"/><circle cx="772.2" cy="90" r="3"/><circle cx="816.9" cy="81.7" r="3"/><circle cx="861.6" cy="90" r="3"/><circle cx="906.3" cy="87.9" r="3"/><circle cx="951" cy="89" r="3"/><circle cx="995.7" cy="81.7" r="3"/><circle cx="1040.4" cy="80.6" r="3"/><circle cx="1085.1" cy="83.8" r="3"/><circle cx="1129.8" cy="93.1" r="3"/></g>
<g fill="#84d0c4" stroke="#dff2ee" stroke-width="2"><circle cx="727.5" cy="73.4" r="3"/><circle cx="772.2" cy="92.1" r="3"/><circle cx="816.9" cy="75.4" r="3"/><circle cx="861.6" cy="96.2" r="3"/><circle cx="906.3" cy="80.6" r="3"/><circle cx="951" cy="82.7" r="3"/><circle cx="995.7" cy="94.2" r="3"/><circle cx="1040.4" cy="89" r="3"/><circle cx="1085.1" cy="87.9" r="3"/><circle cx="1129.8" cy="91" r="3"/></g>
<g fill="#70aee8" stroke="#d3e6f8" stroke-width="2"><circle cx="727.5" cy="101.4" r="3.5"/><circle cx="772.2" cy="94.2" r="3.5"/><circle cx="816.9" cy="72.3" r="3.5"/><circle cx="861.6" cy="86.9" r="3.5"/><circle cx="906.3" cy="79.6" r="3.5"/><circle cx="951" cy="93.1" r="3.5"/><circle cx="995.7" cy="101.4" r="3.5"/><circle cx="1040.4" cy="74.4" r="3.5"/><circle cx="1085.1" cy="87.9" r="3.5"/><circle cx="1129.8" cy="105.6" r="3.5"/></g>
<g class="tm" style="fill:#222"><text x="727.5" y="201">1班</text><text x="772.2" y="201">2班</text><text x="816.9" y="201">3班</text><text x="861.6" y="201">4班</text><text x="906.3" y="201">5班</text><text x="951" y="201">6班</text><text x="995.7" y="201">7班</text><text x="1040.4" y="201">8班</text><text x="1085.1" y="201">9班</text><text x="1129.8" y="201">10班</text></g>
<line x1="859" y1="233" x2="876" y2="233" stroke="#f8827c" stroke-width="1.8"/><circle cx="867.5" cy="233" r="2" fill="#f8827c"/><text class="t" x="877" y="235.5" style="fill:#222">普高生</text>
<line x1="907" y1="233" x2="925" y2="233" stroke="#84d0c4" stroke-width="1.8"/><circle cx="916" cy="233" r="2" fill="#84d0c4"/><text class="t" x="926" y="235.5" style="fill:#222">体育生</text>
<line x1="956" y1="233" x2="974" y2="233" stroke="#70aee8" stroke-width="1.8"/><circle cx="965" cy="233" r="2" fill="#70aee8"/><text class="t" x="975" y="235.5" style="fill:#222">艺术生</text>

<!-- ===== Chart E ===== -->
<text class="ttl" x="927" y="269">学生性别对比得分率</text>
<line x1="700" y1="436.8" x2="1175" y2="436.8" stroke="#d9d9d9" stroke-width="0.8"/>
<g class="tr" style="fill:#222"><text x="688" y="287.5">0.60</text><text x="688" y="312.4">0.50</text><text x="688" y="337.3">0.40</text><text x="688" y="362.2">0.30</text><text x="688" y="387.1">0.20</text><text x="688" y="412">0.10</text><text x="688" y="436.8">0.00</text></g>
<polyline fill="none" stroke="#ffe98a" stroke-width="5" opacity="0.5" points="721.3,323.5 769.3,323 817.3,308.8 865.3,322.3 913.3,315 961.3,319.3 1009.3,316 1057.3,312.3 1105.3,315.6 1153.3,325.5"/>
<polyline fill="none" stroke="#1fb0f0" stroke-width="1.6" stroke-dasharray="4,2" points="721.3,319.8 769.3,321 817.3,309.8 865.3,316 913.3,312.3 961.3,318.5 1009.3,314.8 1057.3,309.3 1105.3,310.3 1153.3,319.3"/>
<polyline fill="none" stroke="#16a34a" stroke-width="1.6" stroke-dasharray="4,2" points="721.3,322.3 769.3,319.8 817.3,304.8 865.3,328 913.3,312.3 961.3,316 1009.3,312.3 1057.3,311 1105.3,315.5 1153.3,328.5"/>
<polyline fill="none" stroke="#ff0066" stroke-width="2" points="721.3,321.5 769.3,321 817.3,306.8 865.3,320.3 913.3,313 961.3,317.3 1009.3,314 1057.3,310.3 1105.3,313.6 1153.3,323.5"/>
<g fill="#fff" stroke="#1fb0f0" stroke-width="1"><path d="M721.3,316.8l3,3l-3,3l-3,-3z"/><path d="M865.3,313l3,3l-3,3l-3,-3z"/><path d="M1057.3,306.3l3,3l-3,3l-3,-3z"/><path d="M1105.3,307.3l3,3l-3,3l-3,-3z"/><path d="M1153.3,316.3l3,3l-3,3l-3,-3z"/></g>
<g fill="#fff" stroke="#16a34a" stroke-width="1"><path d="M817.3,301.8l3,3l-3,3l-3,-3z"/><path d="M865.3,325l3,3l-3,3l-3,-3z"/><path d="M1105.3,312.5l3,3l-3,3l-3,-3z"/><path d="M1153.3,325.5l3,3l-3,3l-3,-3z"/></g>
<g fill="#fff" stroke="#ff0066" stroke-width="1.2"><path d="M721.3,318.5l3,3l-3,3l-3,-3z"/><path d="M769.3,318l3,3l-3,3l-3,-3z"/><path d="M817.3,303.8l3,3l-3,3l-3,-3z"/><path d="M865.3,317.3l3,3l-3,3l-3,-3z"/><path d="M913.3,310l3,3l-3,3l-3,-3z"/><path d="M961.3,314.3l3,3l-3,3l-3,-3z"/><path d="M1009.3,311l3,3l-3,3l-3,-3z"/><path d="M1057.3,307.3l3,3l-3,3l-3,-3z"/><path d="M1105.3,310.6l3,3l-3,3l-3,-3z"/><path d="M1153.3,320.5l3,3l-3,3l-3,-3z"/></g>
<g class="tm" style="fill:#222"><text x="721.3" y="449">1班</text><text x="769.3" y="449">2班</text><text x="817.3" y="449">3班</text><text x="865.3" y="449">4班</text><text x="913.3" y="449">5班</text><text x="961.3" y="449">6班</text><text x="1009.3" y="449">7班</text><text x="1057.3" y="449">8班</text><text x="1105.3" y="449">9班</text><text x="1153.3" y="449">10班</text></g>
<line x1="870" y1="466" x2="889" y2="466" stroke="#1fb0f0" stroke-width="1.8" stroke-dasharray="4,2"/><path d="M879.5,463.5l2.5,2.5l-2.5,2.5l-2.5,-2.5z" fill="#fff" stroke="#1fb0f0"/><text class="t" x="893" y="468.5" style="fill:#222">男</text>
<line x1="909" y1="466" x2="929" y2="466" stroke="#16a34a" stroke-width="1.8" stroke-dasharray="4,2"/><path d="M919,463.5l2.5,2.5l-2.5,2.5l-2.5,-2.5z" fill="#fff" stroke="#16a34a"/><text class="t" x="933" y="468.5" style="fill:#222">女</text>
<line x1="948" y1="466" x2="969" y2="466" stroke="#ff0066" stroke-width="2"/><path d="M958.5,463.5l2.5,2.5l-2.5,2.5l-2.5,-2.5z" fill="#fff" stroke="#ff0066"/><text class="t" x="971.7" y="468.5" style="fill:#222">总计</text>

<!-- ===== Chart F ===== -->
<g stroke="#d9d9d9" stroke-width="0.6">
<line x1="725" y1="511" x2="1348" y2="511"/><line x1="725" y1="526.6" x2="1348" y2="526.6"/><line x1="725" y1="542.3" x2="1348" y2="542.3"/><line x1="725" y1="558" x2="1348" y2="558"/><line x1="725" y1="573.6" x2="1348" y2="573.6"/><line x1="725" y1="589.3" x2="1348" y2="589.3"/><line x1="725" y1="604.9" x2="1348" y2="604.9"/><line x1="725" y1="620.6" x2="1348" y2="620.6"/><line x1="725" y1="636.2" x2="1348" y2="636.2"/><line x1="725" y1="651.9" x2="1348" y2="651.9"/><line x1="725" y1="667.6" x2="1348" y2="667.6"/>
</g>
<g class="tm"><text x="716" y="495.3">0</text><text x="716" y="511">1</text><text x="716" y="526.6">2</text><text x="716" y="542.3">3</text><text x="716" y="558">4</text><text x="716" y="573.6">5</text><text x="716" y="589.3">6</text><text x="716" y="604.9">7</text><text x="716" y="620.6">8</text><text x="716" y="636.2">9</text><text x="715" y="651.9">10</text><text x="715" y="667.6">11</text></g>
<g class="tm"><text x="1360" y="495.3">560</text><text x="1360" y="524">540</text><text x="1360" y="552.7">520</text><text x="1360" y="581.4">500</text><text x="1360" y="610.2">480</text><text x="1360" y="638.9">460</text><text x="1360" y="670">440</text></g>
<g font-size="11" font-weight="bold" fill="#404040" text-anchor="middle"><text x="685" y="550">班</text><text x="685" y="562">级</text><text x="685" y="574">均</text><text x="685" y="586">分</text><text x="685" y="598">及</text><text x="685" y="610">名</text><text x="685" y="622">次</text></g>
<g fill="#ff7c80">
<rect x="746.2" y="584.3" width="19.6" height="83.3"/><rect x="808.5" y="582.7" width="19.6" height="84.9"/><rect x="870.8" y="508.2" width="19.6" height="159.4"/><rect x="933.1" y="586.7" width="19.6" height="80.9"/><rect x="995.4" y="545.8" width="19.6" height="121.8"/><rect x="1057.7" y="556.4" width="19.6" height="111.2"/><rect x="1120" y="554.5" width="19.6" height="113.1"/><rect x="1182.3" y="527.6" width="19.6" height="140"/><rect x="1244.6" y="540.6" width="19.6" height="127"/><rect x="1306.9" y="609.8" width="19.6" height="57.8"/>
</g>
<path d="M756,620.6 C776.8,618 797.5,623.2 818.3,604.9 C839.1,586.6 859.8,505.8 880.6,511 C901.4,516.2 922.1,628.4 942.9,636.2 C963.7,644 984.4,565.8 1005.2,558 C1026,550.2 1046.7,586.7 1067.5,589.3 C1088.3,591.9 1109,584.05 1129.8,573.6 C1150.6,563.15 1171.3,531.8 1192.1,526.6 C1212.9,521.4 1233.6,488.1 1254.4,542.3 C1275.2,596.5 1295.9,633.6 1316.7,651.9" fill="none" stroke="#12948f" stroke-width="1.8" stroke-dasharray="4,2.5"/>
<g fill="#e8872a" stroke="#12948f" stroke-width="0.6"><circle cx="756" cy="620.6" r="2"/><circle cx="818.3" cy="604.9" r="2"/><circle cx="880.6" cy="511" r="2"/><circle cx="942.9" cy="636.2" r="2"/><circle cx="1005.2" cy="558" r="2"/><circle cx="1067.5" cy="589.3" r="2"/><circle cx="1129.8" cy="573.6" r="2"/><circle cx="1192.1" cy="526.6" r="2"/><circle cx="1254.4" cy="542.3" r="2"/><circle cx="1316.7" cy="651.9" r="2"/></g>
<g fill="#fff" stroke="#111" stroke-width="1">
<rect x="751.5" y="604.1" width="9" height="12"/><rect x="813.8" y="588.4" width="9" height="12"/><rect x="876.1" y="494.5" width="9" height="12"/><rect x="938.4" y="619.7" width="9" height="12"/><rect x="1000.7" y="541.5" width="9" height="12"/><rect x="1063" y="572.8" width="9" height="12"/><rect x="1125.3" y="557.1" width="9" height="12"/><rect x="1187.6" y="510.1" width="9" height="12"/><rect x="1249.9" y="525.8" width="9" height="12"/><rect x="1309.7" y="635.4" width="14" height="12"/>
</g>
<g class="tm" style="fill:#222"><text x="756" y="610.5">8</text><text x="818.3" y="594.8">7</text><text x="880.6" y="500.9">1</text><text x="942.9" y="626.1">9</text><text x="1005.2" y="547.9">4</text><text x="1067.5" y="579.2">6</text><text x="1129.8" y="563.5">5</text><text x="1192.1" y="516.5">2</text><text x="1254.4" y="532.2">3</text><text x="1316.7" y="641.8">10</text></g>
<g stroke="#d6d6d6" stroke-width="0.6">
<line x1="683" y1="692.4" x2="1348" y2="692.4"/>
<line x1="725" y1="667.6" x2="725" y2="705"/><line x1="787.3" y1="667.6" x2="787.3" y2="705"/><line x1="849.6" y1="667.6" x2="849.6" y2="705"/><line x1="911.9" y1="667.6" x2="911.9" y2="705"/><line x1="974.2" y1="667.6" x2="974.2" y2="705"/><line x1="1036.5" y1="667.6" x2="1036.5" y2="705"/><line x1="1098.8" y1="667.6" x2="1098.8" y2="705"/><line x1="1161.1" y1="667.6" x2="1161.1" y2="705"/><line x1="1223.4" y1="667.6" x2="1223.4" y2="705"/><line x1="1285.7" y1="667.6" x2="1285.7" y2="705"/><line x1="1348" y1="667.6" x2="1348" y2="705"/>
</g>
<g class="tm" style="font-size:6px">
<text x="756" y="673.6">1班</text><text x="818.3" y="673.6">2班</text><text x="880.6" y="673.6">3班</text><text x="942.9" y="673.6">4班</text><text x="1005.2" y="673.6">5班</text><text x="1067.5" y="673.6">6班</text><text x="1129.8" y="673.6">7班</text><text x="1192.1" y="673.6">8班</text><text x="1254.4" y="673.6">9班</text><text x="1316.7" y="673.6">10班</text>
<text x="756" y="686.6">498.00</text><text x="818.3" y="686.6">499.13</text><text x="880.6" y="686.6">551.01</text><text x="942.9" y="686.6">496.38</text><text x="1005.2" y="686.6">524.85</text><text x="1067.5" y="686.6">517.47</text><text x="1129.8" y="686.6">518.79</text><text x="1192.1" y="686.6">537.80</text><text x="1254.4" y="686.6">528.72</text><text x="1316.7" y="686.6">480.44</text>
<text x="756" y="699">8</text><text x="818.3" y="699">7</text><text x="880.6" y="699">1</text><text x="942.9" y="699">9</text><text x="1005.2" y="699">4</text><text x="1067.5" y="699">6</text><text x="1129.8" y="699">5</text><text x="1192.1" y="699">2</text><text x="1254.4" y="699">3</text><text x="1316.7" y="699">10</text>
</g>
<rect x="685" y="684" width="20" height="5" fill="#ff7c80"/><text class="t" x="708" y="689">均分</text>
<line x1="683" y1="699" x2="704" y2="699" stroke="#12948f" stroke-width="1.8" stroke-dasharray="3,2"/><circle cx="693.5" cy="699" r="2" fill="#e8872a"/><text class="t" x="708" y="701.5">名次</text>

<!-- ===== Panel G ===== -->
<text x="1281" y="37" font-size="15" font-weight="bold" fill="#d8a0b8" text-anchor="middle" dominant-baseline="middle" filter="url(#sh)">各班上线人数统计</text>
<text x="1281" y="36" font-size="15" font-weight="bold" fill="#ff0066" text-anchor="middle" dominant-baseline="middle">各班上线人数统计</text>
<rect x="1205.5" y="56" width="154.5" height="383" rx="9" fill="#fff" stroke="#e2e2e2" stroke-width="0.8"/>
<g stroke="#d9d9d9" stroke-width="0.6"><line x1="1236.2" y1="75" x2="1236.2" y2="431"/><line x1="1273.2" y1="75" x2="1273.2" y2="431"/><line x1="1310.1" y1="75" x2="1310.1" y2="431"/><line x1="1347.1" y1="75" x2="1347.1" y2="431"/></g>
<g class="tm" style="font-size:6px"><text x="1236.2" y="64.3">0</text><text x="1273.2" y="64.3">5</text><text x="1310.1" y="64.3">10</text><text x="1347.1" y="64.3">15</text></g>
<g fill="#ff0066">
<rect x="1236.2" y="84.8" width="36.95" height="13"/><rect x="1236.2" y="120.4" width="44.3" height="13"/><rect x="1236.2" y="156" width="51.7" height="13"/><rect x="1236.2" y="191.6" width="44.3" height="13"/><rect x="1236.2" y="227.2" width="88.7" height="13"/><rect x="1236.2" y="262.8" width="73.9" height="13"/><rect x="1236.2" y="298.4" width="66.5" height="13"/><rect x="1236.2" y="334" width="81.3" height="13"/><rect x="1236.2" y="369.6" width="88.7" height="13"/><rect x="1236.2" y="405.2" width="44.3" height="13"/>
</g>
<g font-size="7" fill="#444" text-anchor="end" dominant-baseline="middle"><text x="1228" y="91.3">1班</text><text x="1228" y="126.9">2班</text><text x="1228" y="162.5">3班</text><text x="1228" y="198.1">4班</text><text x="1228" y="233.7">5班</text><text x="1228" y="269.3">6班</text><text x="1228" y="304.9">7班</text><text x="1228" y="340.5">8班</text><text x="1228" y="376.1">9班</text><text x="1228" y="411.7">10班</text></g>
<g font-size="8" font-weight="bold" fill="#222" dominant-baseline="middle"><text x="1278" y="91.3">5</text><text x="1285" y="126.9">6</text><text x="1293" y="162.5">7</text><text x="1285" y="198.1">6</text><text x="1330" y="233.7">12</text><text x="1315" y="269.3">10</text><text x="1307" y="304.9">9</text><text x="1322" y="340.5">11</text><text x="1330" y="376.1">12</text><text x="1285" y="411.7">6</text></g>
<text x="1215" y="459" font-size="12" font-weight="bold" fill="#ff0066" dominant-baseline="middle">分数线</text>
<rect x="1261.5" y="448" width="38" height="22" fill="#fff" stroke="#aaa" stroke-width="1"/>
<text x="1298" y="460" font-size="17" fill="#ff0000" text-anchor="end" dominant-baseline="middle">600</text>
<rect x="1305.5" y="448" width="20" height="22" fill="#ffff00" stroke="#666" stroke-width="0.8"/>
<rect x="1325.5" y="448" width="20" height="22" fill="#ffff00" stroke="#666" stroke-width="0.8"/>
<path d="M1311,459 l7,-5 v10 z" fill="#2a2ad0"/><path d="M1339,459 l-7,-5 v10 z" fill="#2a2ad0"/>

<!-- ===== Panel H ===== -->
<text x="1459" y="33" font-size="11" font-weight="bold" fill="#666" text-anchor="middle" dominant-baseline="middle">年级前50名</text>
<line x1="1430.5" y1="60" x2="1430.5" y2="700" stroke="#d9d9d9" stroke-width="0.6"/>
<line x1="1531" y1="60" x2="1531" y2="700" stroke="#eeeeee" stroke-width="0.6"/>
<g fill="#ff7c80">
<rect x="1431" y="62" width="87" height="6.5"/><rect x="1431" y="74.8" width="72.6" height="6.5"/><rect x="1431" y="87.7" width="72.4" height="6.5"/><rect x="1431" y="100.5" width="72.4" height="6.5"/><rect x="1431" y="113.4" width="72.2" height="6.5"/><rect x="1431" y="126.2" width="71.8" height="6.5"/><rect x="1431" y="139" width="71.8" height="6.5"/><rect x="1431" y="151.9" width="71.6" height="6.5"/><rect x="1431" y="164.7" width="71.6" height="6.5"/><rect x="1431" y="177.6" width="71.4" height="6.5"/>
<rect x="1431" y="190.4" width="71.4" height="6.5"/><rect x="1431" y="203.2" width="71.3" height="6.5"/><rect x="1431" y="216.1" width="71.1" height="6.5"/><rect x="1431" y="228.9" width="71.1" height="6.5"/><rect x="1431" y="241.8" width="70.9" height="6.5"/><rect x="1431" y="254.6" width="70" height="6.5"/><rect x="1431" y="267.4" width="70" height="6.5"/><rect x="1431" y="280.3" width="70" height="6.5"/><rect x="1431" y="293.1" width="69.5" height="6.5"/><rect x="1431" y="306" width="69.4" height="6.5"/>
<rect x="1431" y="318.8" width="68.7" height="6.5"/><rect x="1431" y="331.6" width="68.5" height="6.5"/><rect x="1431" y="344.5" width="68.5" height="6.5"/><rect x="1431" y="357.3" width="68.3" height="6.5"/><rect x="1431" y="370.2" width="67.8" height="6.5"/><rect x="1431" y="383" width="67.4" height="6.5"/><rect x="1431" y="395.8" width="66.9" height="6.5"/><rect x="1431" y="408.7" width="66.4" height="6.5"/><rect x="1431" y="421.5" width="66.4" height="6.5"/><rect x="1431" y="434.4" width="66.3" height="6.5"/>
<rect x="1431" y="447.2" width="66.3" height="6.5"/><rect x="1431" y="460" width="66.3" height="6.5"/><rect x="1431" y="472.9" width="65.5" height="6.5"/><rect x="1431" y="485.7" width="65.2" height="6.5"/><rect x="1431" y="498.6" width="65.2" height="6.5"/><rect x="1431" y="511.4" width="65.1" height="6.5"/><rect x="1431" y="524.2" width="64.8" height="6.5"/><rect x="1431" y="537.1" width="64.5" height="6.5"/><rect x="1431" y="549.9" width="64.4" height="6.5"/><rect x="1431" y="562.8" width="64.4" height="6.5"/>
<rect x="1431" y="575.6" width="64.4" height="6.5"/><rect x="1431" y="588.4" width="64.3" height="6.5"/><rect x="1431" y="601.3" width="64" height="6.5"/><rect x="1431" y="614.1" width="63.9" height="6.5"/><rect x="1431" y="627" width="63.9" height="6.5"/><rect x="1431" y="639.8" width="63.8" height="6.5"/><rect x="1431" y="652.6" width="63.8" height="6.5"/><rect x="1431" y="665.5" width="63.7" height="6.5"/><rect x="1431" y="678.3" width="63.4" height="6.5"/><rect x="1431" y="691.2" width="63.3" height="6.5"/>
</g>
<g class="nm">
<text x="1424" y="65.2">1-邓小明</text><text x="1424" y="78">2-韩可欣</text><text x="1424" y="90.9">3-吴霞</text><text x="1424" y="103.7">3-孙春花</text><text x="1424" y="116.6">5-谢梓涵</text><text x="1424" y="129.4">6-冯军</text><text x="1424" y="142.2">6-黄春花</text><text x="1424" y="155.1">8-林宇航</text><text x="1424" y="167.9">8-罗霞</text><text x="1424" y="180.8">10-冯雨婷2</text>
<text x="1424" y="193.6">10-徐博文</text><text x="1424" y="206.4">12-徐志强2</text><text x="1424" y="219.3">13-朱可欣</text><text x="1424" y="232.1">13-孙海涛</text><text x="1424" y="245">15-高明</text><text x="1424" y="257.8">16-宋霞</text><text x="1424" y="270.6">16-吴静</text><text x="1424" y="283.5">16-曹雨婷</text><text x="1424" y="296.3">19-黄明</text><text x="1424" y="309.2">20-韩思雨</text>
<text x="1424" y="322">21-许志明</text><text x="1424" y="334.8">22-曹莉</text><text x="1424" y="347.7">22-郑艳</text><text x="1424" y="360.5">24-韩欣怡</text><text x="1424" y="373.4">25-韩天宇</text><text x="1424" y="386.2">26-孙雨婷</text><text x="1424" y="399">27-罗春花</text><text x="1424" y="411.9">28-陈霞</text><text x="1424" y="424.7">28-马文博</text><text x="1424" y="437.6">30-何欣怡2</text>
<text x="1424" y="450.4">30-张红2</text><text x="1424" y="463.2">30-何超</text><text x="1424" y="476.1">33-黄敏</text><text x="1424" y="488.9">34-黄小明</text><text x="1424" y="501.8">34-许子轩</text><text x="1424" y="514.6">36-吴思雨2</text><text x="1424" y="527.4">37-赵雅琪</text><text x="1424" y="540.3">38-朱浩然</text><text x="1424" y="553.1">39-刘玲</text><text x="1424" y="566">39-梁文博</text>
<text x="1424" y="578.8">39-王莉</text><text x="1424" y="591.6">42-孙雨婷3</text><text x="1424" y="604.5">43-罗小强2</text><text x="1424" y="617.3">44-刘小丽</text><text x="1424" y="630.2">44-孙若汐2</text><text x="1424" y="643">46-黄宇航</text><text x="1424" y="655.8">46-吴文博</text><text x="1424" y="668.7">48-邓丽2</text><text x="1424" y="681.5">49-梁霞</text><text x="1424" y="694.4">50-黄欣怡</text>
</g>
<g class="vl">
<text x="1523" y="65.2">873</text><text x="1508" y="78">728</text><text x="1508" y="90.9">726</text><text x="1508" y="103.7">726</text><text x="1507.5" y="116.6">724</text><text x="1507" y="129.4">720</text><text x="1507" y="142.2">720</text><text x="1507" y="155.1">718</text><text x="1507" y="167.9">718</text><text x="1507" y="180.8">716</text>
<text x="1507" y="193.6">716</text><text x="1506.5" y="206.4">715</text><text x="1506.5" y="219.3">713</text><text x="1506.5" y="232.1">713</text><text x="1506" y="245">711</text><text x="1505" y="257.8">702</text><text x="1505" y="270.6">702</text><text x="1505" y="283.5">702</text><text x="1504.5" y="296.3">697</text><text x="1504.5" y="309.2">696</text>
<text x="1504" y="322">689</text><text x="1503.5" y="334.8">687</text><text x="1503.5" y="347.7">687</text><text x="1503.5" y="360.5">685</text><text x="1503" y="373.4">680</text><text x="1502.5" y="386.2">676</text><text x="1502" y="399">671</text><text x="1501.5" y="411.9">666</text><text x="1501.5" y="424.7">666</text><text x="1501.5" y="437.6">665</text>
<text x="1501.5" y="450.4">665</text><text x="1501.5" y="463.2">665</text><text x="1500.5" y="476.1">657</text><text x="1500" y="488.9">654</text><text x="1500" y="501.8">654</text><text x="1500" y="514.6">653</text><text x="1500" y="527.4">650</text><text x="1499.5" y="540.3">647</text><text x="1499.5" y="553.1">646</text><text x="1499.5" y="566">646</text>
<text x="1499.5" y="578.8">646</text><text x="1499.5" y="591.6">645</text><text x="1499" y="604.5">642</text><text x="1499" y="617.3">641</text><text x="1499" y="630.2">641</text><text x="1499" y="643">640</text><text x="1499" y="655.8">640</text><text x="1499" y="668.7">639</text><text x="1498.5" y="681.5">636</text><text x="1498.5" y="694.4">635</text>
</g>
</svg>
</body></html>
